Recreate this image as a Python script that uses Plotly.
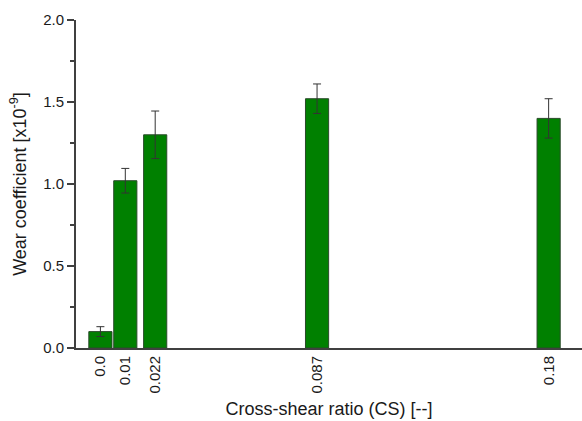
import plotly.graph_objects as go

# Cross-shear ratio values and measured wear coefficients (x1e-9)
cs_ratio = [0.0, 0.01, 0.022, 0.087, 0.18]
cs_labels = ["0.0", "0.01", "0.022", "0.087", "0.18"]
wear_coef = [0.10, 1.02, 1.30, 1.52, 1.40]
wear_err = [0.03, 0.075, 0.145, 0.09, 0.12]

axis_color = "#404040"
font_family = "Liberation Sans, Arial, sans-serif"

fig = go.Figure(
    go.Bar(
        x=cs_ratio,
        y=wear_coef,
        width=0.0093,
        marker=dict(color="#008000", line=dict(color="#2a4a2a", width=1)),
        error_y=dict(type="data", array=wear_err, color="#333333",
                     thickness=1, width=4),
    )
)

fig.update_layout(
    width=582,
    height=421,
    margin=dict(l=76, r=0, t=20, b=73),
    plot_bgcolor="white",
    paper_bgcolor="white",
    showlegend=False,
    font=dict(family=font_family, size=15, color="#1a1a1a"),
)

fig.update_xaxes(
    range=[-0.0098, 0.1934],
    tickmode="array",
    tickvals=cs_ratio,
    ticktext=cs_labels,
    tickangle=-90,
    ticks="",
    showgrid=False,
    zeroline=False,
    showline=True,
    linecolor=axis_color,
    linewidth=2,
    tickfont=dict(size=15),
    title=dict(text="Cross-shear ratio (CS) [--]", font=dict(size=18), standoff=10),
)

fig.update_yaxes(
    range=[0, 2.0],
    tickmode="array",
    tickvals=[0, 0.5, 1.0, 1.5, 2.0],
    ticktext=["0.0", "0.5", "1.0", "1.5", "2.0"],
    ticks="outside",
    ticklen=7,
    tickwidth=1.5,
    tickcolor=axis_color,
    minor=dict(tickvals=[0.25, 0.75, 1.25, 1.75], ticks="outside",
               ticklen=4, tickwidth=1.5, tickcolor=axis_color),
    showgrid=False,
    zeroline=False,
    showline=True,
    linecolor=axis_color,
    linewidth=2,
    tickfont=dict(size=15),
    title=dict(text="Wear coefficient [x10<sup>-9</sup>]", font=dict(size=18), standoff=12),
)

fig.write_html("out.html")
